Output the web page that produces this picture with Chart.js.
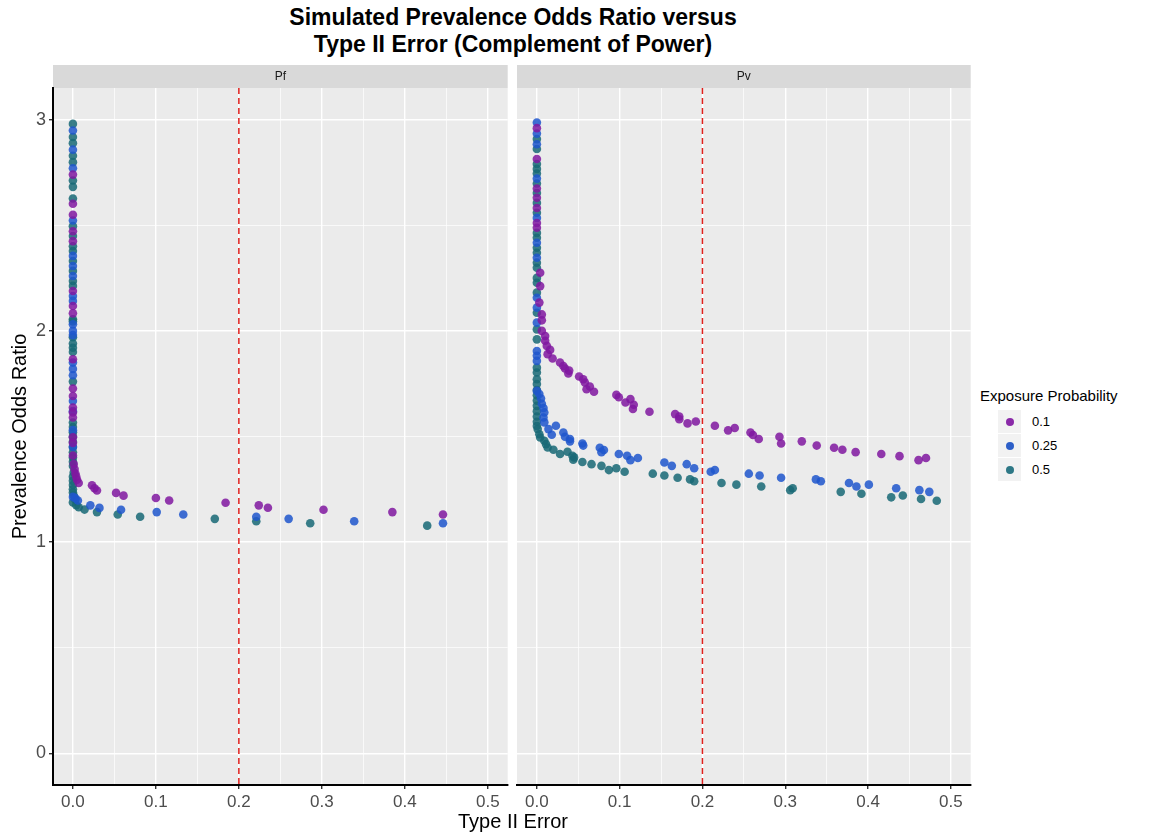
<!DOCTYPE html>
<html>
<head>
<meta charset="utf-8">
<script src="https://cdn.jsdelivr.net/npm/chart.js@4/dist/chart.umd.min.js"></script>
<style>
  body { margin: 0; background: #fff; width: 1150px; height: 836px; position: relative; overflow: hidden;
         font-family: "Liberation Sans", Arial, Helvetica, sans-serif; }
  #title { position: absolute; left: 163px; width: 700px; top: 4px; text-align: center;
           font-weight: bold; font-size: 23px; line-height: 27px; color: #000; }
  #xtitle { position: absolute; left: 363px; width: 300px; top: 810px; text-align: center;
            font-size: 20px; color: #000; }
  .wrap { position: absolute; top: 60px; height: 776px; }
  #legend { position: absolute; left: 980px; top: 387px; color: #000; }
  #legend .lt { font-size: 15px; margin-bottom: 6px; }
  #legend .row { position: relative; height: 24px; }
  #legend .key { position: absolute; left: 18px; top: 0; width: 23px; height: 23px; background: #F2F2F2; }
  #legend .dot { position: absolute; left: 26px; top: 8px; width: 8px; height: 8px; border-radius: 50%; }
  #legend .lab { position: absolute; left: 52px; top: 4px; font-size: 13px; }
</style>
</head>
<body>
<div id="title">Simulated Prevalence Odds Ratio versus<br>Type II Error (Complement of Power)</div>
<div class="wrap" style="left:0px;width:512px"><canvas id="pf"></canvas></div>
<div class="wrap" style="left:512px;width:463px"><canvas id="pv"></canvas></div>
<div id="xtitle">Type II Error</div>
<div id="legend"></div>
<script>
// facets, groups and ticks
const facets = ['Pf', 'Pv'];
const groups = ['0.1', '0.25', '0.5'];
const groupColors = ['rgba(128,24,160,0.85)', 'rgba(30,86,204,0.85)', 'rgba(24,104,118,0.85)'];
const legendColors = ['#8a2aa8', '#2d5fc8', '#2e7886'];
const xTicks = [0, 0.05, 0.1, 0.15, 0.2, 0.25, 0.3, 0.35, 0.4, 0.45, 0.5];
const yTicks = [0, 0.5, 1, 1.5, 2, 2.5, 3];
const cutoff = 0.2;

// [type II error, prevalence odds ratio]
const pf01 = [[0,2.74],[0,2.602],[0,2.55],[0,2.472],[0,2.425],[0,2.189],[0,2.118],[0,2.083],[0,1.866],
  [0,1.727],[0,1.692],[0,1.637],[0,1.614],[0,1.59],[0,1.496],[0,1.47],[0,1.41],[0.001,1.37],[0.002,1.346],
  [0.003,1.325],[0.004,1.31],[0.005,1.295],[0.007,1.28],[0.023,1.269],[0.026,1.255],[0.029,1.244],
  [0.052,1.233],[0.061,1.22],[0.1,1.209],[0.116,1.197],[0.184,1.186],[0.224,1.174],[0.235,1.163],
  [0.302,1.153],[0.385,1.142],[0.446,1.131]];
const pf025 = [[0,2.949],[0,2.858],[0,2.77],[0,2.523],[0,2.355],[0,2.307],[0,2.26],[0,2.165],[0,2.142],
  [0,2.031],[0,2.0],[0,1.98],[0,1.85],[0,1.82],[0,1.79],[0,1.668],[0,1.62],[0,1.53],[0,1.45],[0,1.214],
  [0.003,1.208],[0.006,1.197],[0.021,1.174],[0.032,1.162],[0.058,1.153],[0.101,1.142],[0.133,1.131],
  [0.221,1.12],[0.26,1.11],[0.339,1.099],[0.446,1.089]];
const pf05 = [[0,2.98],[0,2.918],[0,2.889],[0,2.829],[0,2.799],[0,2.712],[0,2.682],[0,2.627],[0,2.496],
  [0,2.449],[0,2.401],[0,2.378],[0,2.331],[0,2.284],[0,2.236],[0,2.213],[0,2.055],[0,2.045],[0,1.97],
  [0,1.94],[0,1.92],[0,1.9],[0,1.76],[0,1.566],[0,1.545],[0,1.52],[0,1.5],[0,1.475],[0,1.45],[0,1.425],
  [0,1.4],[0,1.38],[0,1.36],[0.001,1.33],[0,1.31],[0,1.29],[0,1.27],[0,1.25],[0,1.235],[0.001,1.22],
  [0.003,1.2],[0,1.188],[0.004,1.175],[0.007,1.165],[0.014,1.154],[0.029,1.142],[0.054,1.131],
  [0.081,1.12],[0.171,1.11],[0.221,1.099],[0.286,1.089],[0.427,1.078]];

const pv01 = [[0,2.96],[0,2.814],[0,2.674],[0,2.63],[0,2.582],[0,2.511],[0,2.488],[0.004,2.275],
  [0.004,2.212],[0.003,2.134],[0.006,2.078],[0.006,2.05],[0.006,2.0],[0.01,1.976],[0.01,1.953],
  [0.012,1.929],[0.016,1.91],[0.013,1.89],[0.019,1.869],[0.028,1.85],[0.032,1.834],[0.034,1.822],
  [0.039,1.812],[0.038,1.798],[0.051,1.784],[0.056,1.771],[0.058,1.756],[0.064,1.737],[0.06,1.724],
  [0.069,1.712],[0.096,1.697],[0.099,1.686],[0.107,1.661],[0.113,1.677],[0.117,1.65],[0.116,1.63],
  [0.136,1.617],[0.167,1.606],[0.172,1.595],[0.172,1.582],[0.182,1.562],[0.192,1.571],[0.215,1.551],
  [0.231,1.529],[0.239,1.54],[0.258,1.519],[0.261,1.507],[0.268,1.488],[0.293,1.499],[0.295,1.467],
  [0.32,1.477],[0.338,1.457],[0.359,1.447],[0.369,1.437],[0.385,1.426],[0.416,1.417],[0.438,1.407],
  [0.461,1.388],[0.47,1.398]];
const pv025 = [[0,2.987],[0,2.934],[0,2.884],[0,2.721],[0,2.535],[0,2.417],[0,2.346],[0,2.157],[0,2.11],
  [0,2.039],[0,1.905],[0,1.882],[0,1.858],[0,1.716],[0.003,1.701],[0.005,1.68],[0.006,1.655],
  [0.008,1.635],[0.009,1.614],[0.008,1.59],[0.009,1.567],[0.023,1.551],[0.014,1.535],[0.018,1.508],
  [0.032,1.519],[0.034,1.499],[0.04,1.488],[0.04,1.477],[0.055,1.467],[0.056,1.457],[0.076,1.447],
  [0.081,1.436],[0.078,1.426],[0.099,1.417],[0.109,1.409],[0.113,1.388],[0.122,1.398],[0.154,1.377],
  [0.163,1.361],[0.181,1.369],[0.19,1.35],[0.21,1.333],[0.215,1.341],[0.256,1.324],[0.269,1.315],
  [0.295,1.305],[0.337,1.297],[0.343,1.288],[0.377,1.28],[0.386,1.263],[0.401,1.272],[0.434,1.255],
  [0.462,1.246],[0.474,1.238]];
const pv05 = [[0,2.908],[0,2.861],[0,2.79],[0,2.767],[0,2.745],[0,2.698],[0,2.653],[0,2.606],[0,2.559],
  [0,2.464],[0,2.441],[0,2.394],[0,2.37],[0,2.323],[0,2.299],[0,2.251],[0,2.228],[0,2.181],[0,2.086],
  [0,2.007],[0,1.96],[0,1.826],[0,1.803],[0,1.771],[0,1.748],[0,1.72],[0,1.695],[0,1.67],[0,1.645],
  [0,1.62],[0,1.595],[0,1.57],[0,1.55],[0.001,1.535],[0.003,1.511],[0.004,1.495],[0.009,1.48],
  [0.011,1.464],[0.013,1.448],[0.02,1.437],[0.028,1.417],[0.037,1.428],[0.043,1.409],[0.044,1.39],
  [0.045,1.401],[0.055,1.379],[0.066,1.369],[0.078,1.361],[0.087,1.341],[0.096,1.35],[0.106,1.333],
  [0.14,1.324],[0.154,1.315],[0.17,1.305],[0.185,1.297],[0.19,1.288],[0.223,1.28],[0.241,1.272],
  [0.271,1.263],[0.306,1.246],[0.309,1.255],[0.367,1.238],[0.392,1.229],[0.428,1.212],[0.442,1.221],
  [0.464,1.204],[0.483,1.196]];

const facetData = { Pf: [pf01, pf025, pf05], Pv: [pv01, pv025, pv05] };

const isMajor = v => Math.abs(v * 10 - Math.round(v * 10)) < 1e-6;
const isMajorY = v => Math.abs(v - Math.round(v)) < 1e-6;

const panelPlugin = {
  id: 'panel',
  beforeDraw(chart, args, opts) {
    const { ctx, chartArea: a } = chart;
    ctx.save();
    ctx.fillStyle = '#EBEBEB';
    ctx.fillRect(a.left, a.top, a.right - a.left, a.bottom - a.top);
    // facet strip
    ctx.fillStyle = '#D9D9D9';
    ctx.fillRect(a.left, a.top - 23, a.right - a.left, 23);
    ctx.fillStyle = '#1A1A1A';
    ctx.font = '12px "Liberation Sans", Arial, sans-serif';
    ctx.textAlign = 'center';
    ctx.textBaseline = 'middle';
    ctx.fillText(opts.label, (a.left + a.right) / 2, a.top - 11);
    ctx.restore();
  },
  beforeDatasetsDraw(chart) {
    const { ctx, chartArea: a, scales } = chart;
    const x = scales.x.getPixelForValue(cutoff);
    ctx.save();
    ctx.strokeStyle = '#E0201C';
    ctx.lineWidth = 1.5;
    ctx.setLineDash([6, 4]);
    ctx.beginPath();
    ctx.moveTo(x, a.top);
    ctx.lineTo(x, a.bottom);
    ctx.stroke();
    ctx.restore();
  }
};

const makeChart = (id, facet, first) => {
  const ctx = document.getElementById(id).getContext('2d');
  return new Chart(ctx, {
    type: 'scatter',
    data: {
      datasets: facetData[facet].map((pts, i) => ({
        label: groups[i],
        data: pts.map(p => ({ x: p[0], y: p[1] })),
        backgroundColor: groupColors[i],
        borderWidth: 0,
        pointRadius: 4.3
      }))
    },
    options: {
      responsive: true,
      maintainAspectRatio: false,
      animation: false,
      events: [],
      layout: { padding: { top: 28, left: first ? 0 : 5, right: first ? 4 : 2, bottom: 0 } },
      plugins: {
        legend: { display: false },
        tooltip: { enabled: false },
        panel: { label: facet }
      },
      scales: {
        x: {
          type: 'linear',
          min: -0.024,
          max: 0.524,
          afterBuildTicks: s => { s.ticks = xTicks.map(v => ({ value: v })); },
          afterFit: s => { s.height = 51; },
          ticks: {
            color: '#4D4D4D',
            font: { size: 17 },
            padding: 3,
            maxRotation: 0,
            autoSkip: false,
            callback: v => isMajor(v) ? v.toFixed(1) : ''
          },
          grid: {
            color: '#FFFFFF',
            lineWidth: c => isMajor(c.tick.value) ? 1.4 : 0.7,
            tickLength: 4,
            tickColor: c => isMajor(c.tick.value) ? '#333333' : 'rgba(0,0,0,0)'
          },
          border: { color: '#000000', width: 2 }
        },
        y: {
          type: 'linear',
          min: -0.15,
          max: 3.15,
          afterBuildTicks: s => { s.ticks = yTicks.map(v => ({ value: v })); },
          afterFit: s => { s.width = first ? 53 : 0; },
          title: first ? {
            display: true,
            text: 'Prevalence Odds Ratio',
            color: '#000000',
            font: { size: 20 },
            padding: { top: 8, bottom: 0 }
          } : { display: false },
          ticks: {
            display: first,
            color: '#4D4D4D',
            font: { size: 18 },
            padding: 3,
            callback: v => isMajorY(v) ? String(v) : ''
          },
          grid: {
            color: '#FFFFFF',
            lineWidth: c => isMajorY(c.tick.value) ? 1.4 : 0.7,
            drawTicks: first,
            tickLength: 4,
            tickColor: c => isMajorY(c.tick.value) ? '#333333' : 'rgba(0,0,0,0)'
          },
          border: { display: first, color: '#000000', width: 2 }
        }
      }
    },
    plugins: [panelPlugin]
  });
};

makeChart('pf', facets[0], true);
makeChart('pv', facets[1], false);

// legend
const legend = document.getElementById('legend');
legend.innerHTML = '<div class="lt">Exposure Probability</div>' +
  groups.map((g, i) => `<div class="row"><div class="key"></div>` +
    `<div class="dot" style="background:${legendColors[i]}"></div><div class="lab">${g}</div></div>`).join('');
</script>
</body>
</html>
